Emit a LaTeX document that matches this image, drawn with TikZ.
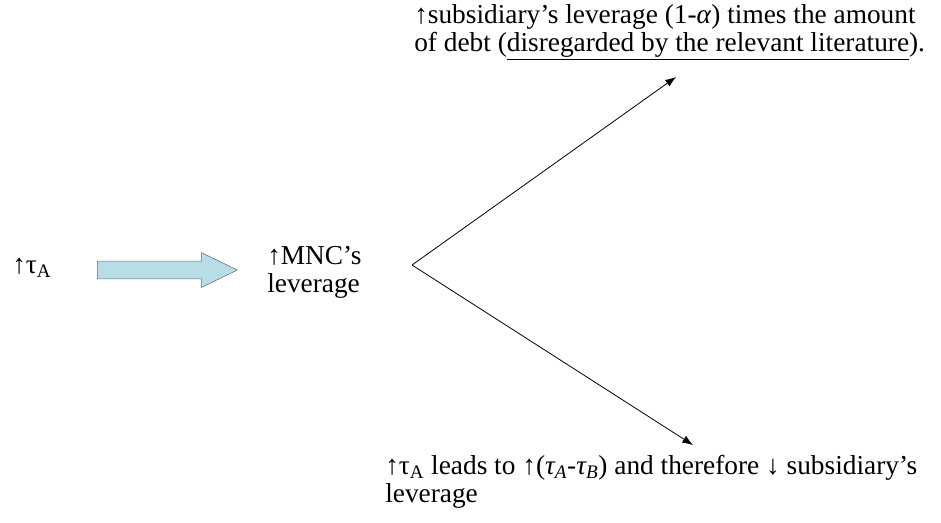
\documentclass[tikz,border=0pt]{standalone}
\usepackage{fontspec}
\setmainfont{Liberation Serif}
\usepackage{xcolor}
\usepackage{tikz}
\usetikzlibrary{shapes,arrows,arrows.meta,positioning}

\definecolor{arrowfill}{RGB}{183,222,230}
\definecolor{arrowline}{RGB}{95,110,118}

\tikzset{
  txt/.style={inner sep=0pt, anchor=west, align=left, font=\fontsize{20.5}{21}\selectfont},
  branch/.style={-{Latex[length=8pt,width=6pt]}, line width=0.6pt}
}

\begin{document}
\begin{tikzpicture}[x=0.75pt,y=-0.75pt]
\useasboundingbox (0,0) rectangle (941,522);

% Left side: tax rate and the big arrow
\node[txt] (tax) at (12,268) {↑τ\textsubscript{A}};
\node[single arrow, draw=arrowline, fill=arrowfill, minimum height=105pt, minimum width=25.5pt,
      inner sep=6.4pt, single arrow head extend=6.4pt, single arrow tip angle=52,
      anchor=tail] (bigarrow) at (97,270) {};
\node[txt] (mnc) at (267,272) {↑MNC’s\\leverage};

% Split into the two effects
\coordinate (split) at (412,265);
\coordinate (uptip) at (676,77);
\coordinate (downtip) at (693,445);

\node[txt] (upper) at (414,32) {↑subsidiary’s leverage (1-\textit{α}) times the amount\\of debt (\underline{disregarded by the relevant literature}).};
\node[txt] (lower) at (385,482) {↑τ\textsubscript{A} leads to ↑(\textit{τ\textsubscript{A}}-\textit{τ\textsubscript{B}}) and therefore ↓ subsidiary’s\\leverage};

\draw[branch] (split) -- (uptip);
\draw[branch] (split) -- (downtip);

\end{tikzpicture}
\end{document}
